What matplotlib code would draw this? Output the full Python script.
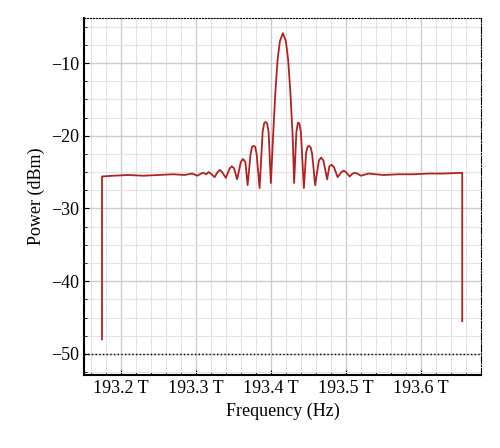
import matplotlib
matplotlib.use("Agg")
import matplotlib.pyplot as plt
from matplotlib.ticker import MultipleLocator, FuncFormatter

plt.rcParams['font.family'] = ['Liberation Serif', 'DejaVu Serif']

# spectrum key points (THz, dBm)
freq = [193.175, 193.175, 193.19, 193.21, 193.23, 193.25, 193.27, 193.285, 193.295,
        193.302, 193.307, 193.310, 193.314, 193.317, 193.320, 193.325,
        193.329, 193.332, 193.335, 193.340, 193.345, 193.348, 193.351, 193.355,
        193.360, 193.363, 193.366, 193.369, 193.373, 193.375, 193.377, 193.379, 193.381,
        193.385, 193.389, 193.391, 193.393, 193.395, 193.397, 193.400,
        193.403, 193.406, 193.409, 193.412, 193.416, 193.420, 193.423, 193.426, 193.429,
        193.431, 193.434, 193.436, 193.438, 193.440, 193.444,
        193.447, 193.449, 193.451, 193.453, 193.455, 193.459,
        193.464, 193.467, 193.470, 193.475, 193.478, 193.481, 193.484, 193.489,
        193.494, 193.497, 193.500, 193.505, 193.509, 193.512, 193.515, 193.520,
        193.53, 193.55, 193.57, 193.59, 193.61, 193.63, 193.655, 193.655]
power = [-48.0, -25.6, -25.5, -25.4, -25.5, -25.4, -25.3, -25.4, -25.2,
         -25.5, -25.2, -25.1, -25.3, -25.0, -25.2, -25.7,
         -25.0, -24.7, -25.0, -25.8, -24.5, -24.2, -24.5, -26.0,
         -23.6, -23.2, -23.6, -26.8, -22.5, -21.5, -21.4, -21.5, -22.5,
         -27.2, -19.5, -18.3, -18.1, -18.3, -19.5, -26.5,
         -20.0, -14.0, -9.5, -7.0, -5.9, -7.0, -9.5, -14.0, -20.0,
         -26.5, -19.5, -18.2, -18.3, -19.5, -27.2,
         -22.3, -21.5, -21.4, -21.6, -22.5, -26.8,
         -23.4, -23.0, -23.4, -26.0, -24.2, -24.0, -24.3, -25.7,
         -25.0, -24.8, -25.0, -25.6, -25.2, -25.1, -25.2, -25.5,
         -25.2, -25.4, -25.3, -25.3, -25.2, -25.2, -25.1, -45.5]

xticks = [193.2, 193.3, 193.4, 193.5, 193.6]
yticks = [-10, -20, -30, -40, -50]

fig = plt.figure(figsize=(5.0, 4.48), dpi=100)
ax = fig.add_axes([0.168, 0.163, 0.794, 0.797])
ax.plot(freq, power, color='#b22222', lw=1.3)
ax.axhline(-50, color='black', lw=1.0, ls=':')
ax.set_xlim(193.151, 193.68)
ax.set_ylim(-52.9, -3.8)
ax.set_xticks(xticks)
ax.set_yticks(yticks)
ax.xaxis.set_major_formatter(FuncFormatter(lambda v, p: f"{v:.1f} T"))
ax.yaxis.set_major_formatter(FuncFormatter(lambda v, p: f"\u2212{abs(int(v))}"))
ax.xaxis.set_minor_locator(MultipleLocator(0.02))
ax.yaxis.set_minor_locator(MultipleLocator(2.5))
ax.grid(which='major', color='#cccccc', lw=1.0)
ax.grid(which='minor', color='#e3e3e3', lw=0.8)
ax.tick_params(which='both', direction='in', labelsize=13)
ax.tick_params(which='minor', length=2)
ax.spines['top'].set_linestyle(':')
ax.spines['right'].set_linestyle('-.')
ax.spines['left'].set_linewidth(1.5)
ax.spines['bottom'].set_linewidth(1.5)
ax.set_xlabel('Frequency (Hz)', fontsize=13)
ax.set_ylabel('Power (dBm)', fontsize=13)
fig.savefig('out.png', dpi=100)
